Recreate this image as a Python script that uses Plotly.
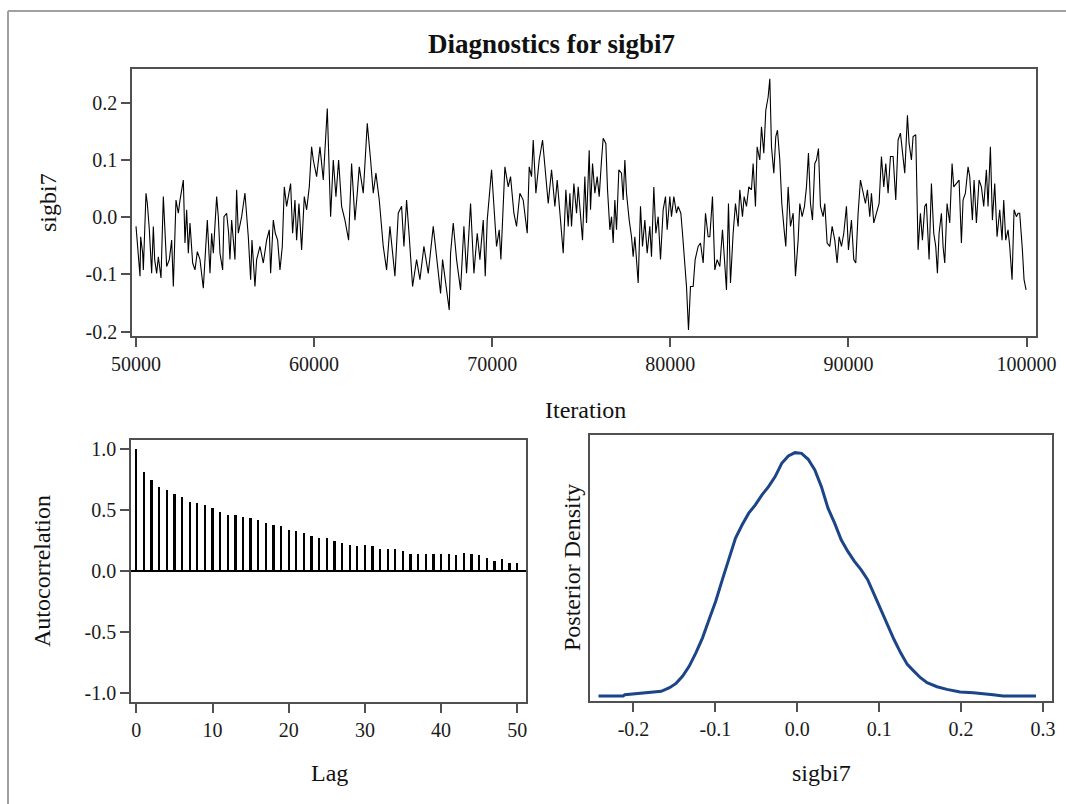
import plotly.graph_objects as go

W, H = 1066, 804

# ---------------- data ----------------
iterations = [50000,50131,50225,50262,50374,50412,50561,50636,50748,50879,50973,51048,51160,51254,51403,51534,51721,51871,52002,52096,
52245,52376,52470,52657,52750,52844,52937,53031,53181,53312,53443,53592,53779,53873,54004,54154,54247,54341,54528,54621,
54715,54865,54939,55089,55201,55276,55370,55557,55650,55744,55931,56118,56305,56436,56511,56679,56773,56960,57147,57334,
57484,57559,57709,57821,57952,58083,58214,58326,58457,58681,58794,58925,59018,59149,59299,59449,59580,59729,59860,59954,
60141,60328,60515,60740,60927,61076,61226,61376,61544,61731,61937,62105,62292,62423,62536,62760,62985,63172,63322,63471,
63658,63883,64070,64257,64538,64725,64912,65043,65193,65342,65529,65754,65941,66165,66409,66689,67101,67213,67438,67587,
67662,67812,67999,68224,68411,68560,68785,68972,69159,69309,69496,69608,69720,69964,70244,70394,70487,70712,70899,71030,
71217,71367,71554,71741,71966,72078,72209,72303,72452,72639,72827,72958,73145,73332,73519,73650,73800,73987,74136,74267,
74361,74454,74585,74735,74828,74922,75071,75202,75296,75446,75520,75633,75764,75895,76007,76138,76231,76381,76475,76606,
76699,76793,76886,76980,77111,77260,77354,77448,77541,77691,77822,77915,78009,78196,78327,78439,78570,78701,78851,78944,
79075,79188,79319,79450,79599,79730,79824,79973,80067,80198,80348,80441,80591,80684,80815,80909,81021,81133,81283,81395,
81564,81695,81845,81976,82125,82219,82368,82499,82630,82780,82930,83061,83154,83266,83379,83528,83659,83809,83903,84052,
84146,84277,84408,84558,84651,84782,84876,85025,85119,85250,85362,85493,85587,85681,85812,85923,86017,86148,86260,86391,
86485,86616,86747,86897,87028,87177,87271,87402,87533,87645,87757,87870,87982,88113,88206,88319,88431,88581,88674,88805,
88955,89086,89235,89366,89479,89610,89741,89890,90002,90171,90302,90414,90545,90676,90826,90957,91069,91200,91294,91425,
91574,91724,91855,91986,92098,92229,92360,92510,92659,92790,92921,93033,93164,93314,93407,93538,93632,93781,93912,94043,
94156,94287,94380,94530,94661,94792,94904,94998,95091,95222,95316,95409,95540,95690,95821,95915,96064,96214,96345,96438,
96569,96719,96812,96962,97056,97187,97336,97467,97598,97748,97841,97972,98085,98216,98347,98496,98627,98721,98833,98964,
99058,99189,99301,99432,99526,99619,99769,99862,99975]

sigbi7_trace = [-0.016,-0.074,-0.103,-0.034,-0.063,-0.092,0.042,0.024,-0.022,-0.098,-0.016,-0.074,-0.098,-0.069,-0.106,0.036,-0.086,-0.074,-0.040,-0.121,
0.030,0.007,0.030,0.065,-0.045,0.013,-0.063,-0.010,-0.080,-0.092,-0.060,-0.074,-0.124,-0.074,-0.005,-0.098,-0.028,-0.063,0.036,0.001,
-0.063,-0.092,0.001,0.007,-0.028,-0.074,-0.005,-0.074,0.048,-0.028,0.001,0.042,-0.034,-0.109,-0.040,-0.121,-0.074,-0.051,-0.080,-0.040,
-0.022,-0.098,-0.005,-0.028,-0.040,-0.092,-0.051,0.053,0.019,0.059,-0.028,0.030,-0.040,0.024,-0.057,0.036,0.013,0.053,0.123,0.100,
0.071,0.123,0.065,0.190,0.001,0.100,0.036,0.100,0.019,-0.005,-0.040,0.094,-0.005,0.042,0.088,0.042,0.164,0.100,0.042,0.077,
0.030,-0.051,-0.092,-0.016,-0.103,0.007,0.019,-0.051,0.030,-0.034,-0.121,-0.074,-0.109,-0.051,-0.098,-0.016,-0.133,-0.074,-0.127,-0.162,
-0.063,-0.010,-0.074,-0.127,-0.016,-0.098,0.024,-0.098,-0.028,-0.074,-0.005,-0.103,-0.005,0.083,-0.051,-0.022,-0.074,0.088,0.053,0.071,
0.007,-0.016,0.042,0.030,-0.028,0.088,0.071,0.135,0.042,0.100,0.135,0.088,0.024,0.083,0.019,0.065,0.001,-0.063,0.048,-0.016,
0.042,-0.016,0.059,0.007,0.053,0.019,-0.040,0.071,-0.010,0.117,0.013,0.094,0.042,0.071,0.036,0.100,0.138,0.129,0.048,-0.022,
0.001,-0.045,0.030,-0.022,0.083,0.077,0.030,0.100,0.042,-0.005,-0.034,-0.069,-0.034,-0.115,0.019,-0.051,-0.005,-0.063,-0.016,-0.069,
0.053,-0.028,0.001,-0.074,0.013,0.036,-0.022,0.036,0.001,0.036,0.007,0.019,0.007,-0.028,-0.074,-0.121,-0.197,-0.121,-0.121,-0.074,
-0.051,-0.045,-0.080,0.007,-0.034,-0.034,0.036,-0.092,-0.074,-0.086,-0.022,-0.086,-0.127,0.024,-0.115,-0.028,0.024,-0.016,0.048,0.001,
0.036,0.019,0.053,0.048,0.094,0.019,0.123,0.100,0.158,0.112,0.187,0.210,0.242,0.123,0.077,0.141,0.152,0.100,0.024,-0.022,
-0.051,0.053,-0.016,0.007,-0.103,-0.040,0.024,0.001,0.019,0.053,0.112,0.024,-0.005,0.094,0.100,0.120,0.019,0.001,0.024,-0.045,
-0.051,-0.016,-0.040,-0.080,-0.034,-0.051,-0.028,0.019,-0.057,-0.005,-0.074,-0.080,0.007,0.065,0.042,0.024,0.048,0.001,0.042,-0.010,
0.007,0.024,0.106,0.053,0.094,0.042,0.106,0.106,0.030,0.135,0.147,0.112,0.077,0.178,0.129,0.100,0.141,0.144,-0.057,0.007,
-0.040,0.019,0.024,-0.074,0.059,-0.028,-0.051,-0.098,-0.028,0.007,-0.051,-0.080,0.024,-0.010,0.094,0.053,0.059,0.065,-0.045,0.030,
0.042,0.088,0.071,-0.005,0.065,-0.010,0.065,0.053,0.019,0.083,0.019,0.123,-0.005,0.059,-0.034,0.013,-0.040,0.030,-0.040,-0.022,
-0.051,-0.109,0.013,0.001,0.007,0.007,-0.057,-0.109,-0.127]

lags = list(range(0, 51))
autocorr = [1.0,0.81,0.743,0.689,0.662,0.635,0.608,0.568,0.554,0.541,0.514,0.486,0.459,0.459,0.446,0.432,0.419,0.392,0.378,0.365,
0.338,0.324,0.311,0.284,0.27,0.27,0.243,0.23,0.216,0.203,0.216,0.203,0.176,0.176,0.176,0.162,0.135,0.135,0.135,0.135,
0.135,0.135,0.127,0.149,0.135,0.127,0.108,0.081,0.095,0.068,0.068]

density_x = [-0.2427,-0.2125,-0.2105,-0.1883,-0.1661,-0.1560,-0.1480,-0.1399,-0.1319,-0.1238,-0.1157,-0.1077,-0.0996,-0.0915,-0.0835,
-0.0754,-0.0673,-0.0593,-0.0512,-0.0431,-0.0351,-0.0270,-0.0190,-0.0109,-0.0028,0.0052,0.0133,0.0214,0.0294,0.0375,0.0456,0.0536,
0.0617,0.0698,0.0778,0.0859,0.0940,0.1020,0.1101,0.1181,0.1262,0.1343,0.1423,0.1504,0.1585,0.1706,0.1827,0.1988,0.2149,0.2270,
0.2391,0.2512,0.2915]
density_y = [0.0,0.0,0.034,0.085,0.119,0.212,0.322,0.508,0.762,1.101,1.482,1.948,2.414,2.965,3.473,
4.023,4.362,4.659,4.870,5.124,5.336,5.590,5.929,6.115,6.200,6.183,6.031,5.760,5.336,4.786,4.404,3.981,
3.684,3.430,3.219,2.965,2.583,2.202,1.779,1.440,1.101,0.805,0.635,0.466,0.339,0.237,0.169,0.102,0.085,0.068,
0.034,0.0,0.0]

iter_ticks = [50000, 60000, 70000, 80000, 90000, 100000]
trace_ticks = [-0.2, -0.1, 0.0, 0.1, 0.2]
lag_ticks = [0, 10, 20, 30, 40, 50]
acf_ticks = [-1.0, -0.5, 0.0, 0.5, 1.0]
dens_ticks = [-0.2, -0.1, 0.0, 0.1, 0.2, 0.3]

# ---------------- styling ----------------
FONT = "Liberation Serif, Times New Roman, serif"
FRAME = "#505050"
TICKFONT = dict(family=FONT, size=20, color="#1a1a1a")


def px(x):
    return x / W


def py(y):
    return 1 - y / H


fig = go.Figure()

fig.add_trace(go.Scatter(x=iterations, y=sigbi7_trace, mode="lines",
                         line=dict(color="black", width=1.1),
                         xaxis="x", yaxis="y", showlegend=False))

fig.add_trace(go.Bar(x=lags, y=autocorr, width=0.3, marker=dict(color="black", line=dict(width=0)),
                     xaxis="x2", yaxis="y2", showlegend=False))

fig.add_trace(go.Scatter(x=density_x, y=density_y, mode="lines",
                         line=dict(color="#1c4587", width=3),
                         xaxis="x3", yaxis="y3", showlegend=False))

axis_common = dict(showline=True, linecolor=FRAME, linewidth=1.5, mirror=True,
                   ticks="outside", ticklen=9, tickwidth=1.5, tickcolor=FRAME,
                   showgrid=False, zeroline=False, tickfont=TICKFONT, automargin=False)

fig.update_layout(
    width=W, height=H,
    margin=dict(l=0, r=0, t=0, b=0),
    paper_bgcolor="white", plot_bgcolor="white",
    bargap=0,
    xaxis=dict(domain=[px(132), px(1035.5)], anchor="y", range=[49775, 100505],
               tickvals=iter_ticks, ticktext=[str(v) for v in iter_ticks], **axis_common),
    yaxis=dict(domain=[py(336), py(69)], anchor="x", range=[-0.2075, 0.259],
               tickvals=trace_ticks, ticktext=["%.1f" % v for v in trace_ticks], **axis_common),
    xaxis2=dict(domain=[px(131), px(526)], anchor="y2", range=[-0.7, 51.15],
                tickvals=lag_ticks, ticktext=[str(v) for v in lag_ticks], **axis_common),
    yaxis2=dict(domain=[py(702), py(440)], anchor="x2", range=[-1.078, 1.075],
                tickvals=acf_ticks, ticktext=["%.1f" % v for v in acf_ticks], **axis_common),
    xaxis3=dict(domain=[px(589.5), px(1052)], anchor="y3", range=[-0.2537, 0.311],
                tickvals=dens_ticks, ticktext=["%.1f" % v for v in dens_ticks], **axis_common),
    yaxis3=dict(domain=[py(701), py(435)], anchor="x3", range=[-0.127, 6.65],
                showticklabels=False, **{k: v for k, v in axis_common.items() if k not in ("ticks",)}),
)
fig.layout.yaxis3.ticks = ""
fig.layout.yaxis2.zeroline = True
fig.layout.yaxis2.zerolinecolor = "black"
fig.layout.yaxis2.zerolinewidth = 1.5

# outer frame of the output
fig.add_shape(type="line", xref="paper", yref="paper", x0=px(8), x1=1.0, y0=py(11), y1=py(11),
              line=dict(color="#a0a0a0", width=2))
fig.add_shape(type="line", xref="paper", yref="paper", x0=px(8), x1=px(8), y0=py(11), y1=0.0,
              line=dict(color="#a0a0a0", width=2))

def label(text, x, y, size=24, angle=0, bold=False):
    fig.add_annotation(text=("<b>%s</b>" % text) if bold else text, xref="paper", yref="paper",
                       x=px(x), y=py(y), xanchor="center", yanchor="middle", showarrow=False,
                       textangle=angle, font=dict(family=FONT, size=size, color="#111111"))

label("Diagnostics for sigbi7", 551, 44, size=27, bold=True)
label("sigbi7", 48, 203, angle=-90)
label("Iteration", 585, 410)
label("Autocorrelation", 42, 571, angle=-90)
label("Lag", 329, 773)
label("Posterior Density", 572, 568, angle=-90)
label("sigbi7", 821, 773)

fig.write_html("out.html")
